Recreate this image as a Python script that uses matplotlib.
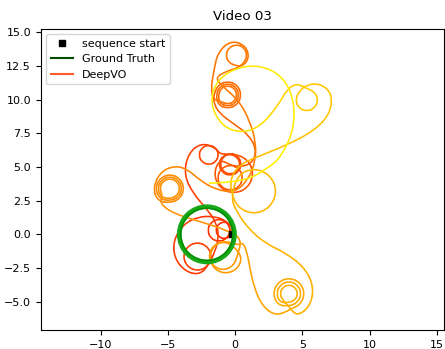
import numpy as np
import matplotlib
matplotlib.use("Agg")
import matplotlib.pyplot as plt
from matplotlib.path import Path
from matplotlib.patches import PathPatch, Circle
from matplotlib.lines import Line2D

plt.rcParams["font.size"] = 8

# punto de inicio de la secuencia
start_xy = (-0.25, 0.05)

# ground truth: la camara da vueltas sobre un mismo circulo
gt_center = (-2.1, 0.0)
gt_radius = 2.05

# DeepVO: puntos de control de la trayectoria, en orden de tiempo
vo_inicio = [(-0.25, 0.05), (-0.15, 0.3), (-0.34, 0.76), (-0.8, 0.95), (-1.26, 0.76), (-1.45, 0.3),
             (-1.26, -0.16), (-0.8, -0.35), (-0.34, -0.16), (-0.34, 0.3), (-0.59, 0.91), (-1.2, 1.16),
             (-1.81, 0.91), (-2.06, 0.3), (-1.81, -0.31), (-1.2, -0.56), (-0.59, -0.31), (-0.3, 0.35),
             (-0.6, 1.0)]
vo_arco_rojo = [(-1.6, 1.35), (-2.8, 1.3), (-3.9, 0.7), (-4.6, -0.5), (-4.5, -1.8), (-3.7, -2.75),
                (-2.7, -3.0), (-2.04, -2.41), (-1.72, -1.65), (-2.04, -0.89), (-2.8, -0.57), (-3.56, -0.89),
                (-3.88, -1.65), (-3.56, -2.41), (-2.8, -2.73), (-2.04, -2.41), (-1.5, -1.3), (-1.2, -0.2),
                (-1.4, 0.9), (-2.2, 2.0), (-3.1, 3.0), (-3.8, 4.4), (-3.5, 6.0), (-2.5, 6.8), (-1.4, 6.4)]
vo_lazo_e = [(-1.21, 5.9), (-1.43, 5.37), (-1.96, 5.15), (-2.49, 5.37), (-2.71, 5.9), (-2.49, 6.43),
             (-1.96, 6.65), (-1.43, 6.43), (-1.15, 5.95)]
vo_lazos_f = [(-0.37, 5.96), (0.17, 5.74), (0.39, 5.2), (0.17, 4.66), (-0.37, 4.44), (-0.91, 4.66),
              (-1.13, 5.2), (-0.91, 5.74), (-0.37, 6.06), (0.24, 5.81), (0.49, 5.2), (0.24, 4.59),
              (-0.37, 4.34), (-0.98, 4.59), (-1.23, 5.2), (-0.98, 5.81), (-0.1, 6.0), (0.96, 5.56),
              (1.4, 4.5), (0.96, 3.44), (-0.1, 3.0), (-1.16, 3.44), (-1.6, 4.5), (-1.16, 5.56),
              (-0.37, 5.17), (0.32, 4.89), (0.6, 4.2), (0.32, 3.51), (-0.37, 3.23), (-1.06, 3.51),
              (-1.34, 4.2), (-1.06, 4.89), (-0.37, 5.17), (0.4, 5.0)]
vo_subida = [(1.3, 5.3), (1.6, 6.3), (1.0, 7.4), (-0.1, 8.2), (-1.2, 9.0), (-1.6, 9.8)]
vo_lazos_h = [(-1.58, 10.35), (-1.28, 11.08), (-0.55, 11.38), (0.18, 11.08), (0.48, 10.35), (0.18, 9.62),
              (-0.55, 9.32), (-1.28, 9.62), (-1.41, 10.35), (-1.16, 10.96), (-0.55, 11.21), (0.06, 10.96),
              (0.31, 10.35), (0.06, 9.74), (-0.55, 9.49), (-1.16, 9.74), (-1.25, 10.35), (-1.05, 10.85),
              (-0.55, 11.05), (-0.05, 10.85), (0.15, 10.35), (-0.05, 9.85), (-0.55, 9.65), (-1.05, 9.85)]
vo_cima = [(-1.6, 10.0), (-1.8, 10.8), (-1.6, 12.0), (-1.3, 13.5), (-0.3, 14.4), (0.8, 14.0),
           (1.05, 13.1), (0.6, 12.5), (0.1, 12.5), (-0.47, 12.73), (-0.7, 13.3), (-0.47, 13.87),
           (0.1, 14.1), (0.67, 13.87), (0.9, 13.3), (0.67, 12.73), (0.2, 12.35), (-0.8, 12.05),
           (-1.45, 11.6), (-1.0, 11.05), (0.3, 9.9), (1.1, 8.4), (1.55, 6.8), (1.5, 5.4), (1.0, 4.1)]
vo_hacia_k = [(0.0, 3.1), (-1.4, 3.3), (-2.6, 4.0), (-3.5, 4.8), (-4.4, 5.1), (-5.5, 4.7), (-6.1, 3.5),
              (-5.8, 2.5)]
vo_lazos_k = [(-4.85, 2.32), (-4.09, 2.64), (-3.77, 3.4), (-4.09, 4.16), (-4.85, 4.48), (-5.61, 4.16),
              (-5.93, 3.4), (-5.61, 2.64), (-4.85, 2.48), (-4.2, 2.75), (-3.93, 3.4), (-4.2, 4.05),
              (-4.85, 4.32), (-5.5, 4.05), (-5.77, 3.4), (-5.5, 2.75), (-4.85, 2.64), (-4.31, 2.86),
              (-4.09, 3.4), (-4.31, 3.94), (-4.85, 4.16), (-5.39, 3.94), (-5.61, 3.4), (-5.39, 2.86)]
vo_hacia_l = [(-5.6, 2.3), (-4.6, 1.55), (-2.6, 0.95), (-0.6, 0.3), (0.5, -0.3)]
vo_lazos_l = [(0.18, -1.6), (-0.14, -2.36), (-0.9, -2.68), (-1.66, -2.36), (-1.98, -1.6), (-1.66, -0.84),
              (-0.9, -0.52), (-0.14, -0.84), (0.54, -1.7), (0.18, -2.58), (-0.7, -2.94), (-1.58, -2.58),
              (-1.94, -1.7), (-1.58, -0.82), (-0.7, -0.46), (0.18, -0.82)]
vo_bajada = [(0.6, -0.6), (0.9, -1.4), (1.1, -2.5), (1.4, -3.9), (2.0, -5.3), (3.0, -6.05), (4.0, -5.65)]
vo_lazos_n = [(4.0, -5.59), (4.84, -5.24), (5.19, -4.4), (4.84, -3.56), (4.0, -3.21), (3.16, -3.56),
              (2.81, -4.4), (3.16, -5.24), (4.0, -5.34), (4.66, -5.06), (4.94, -4.4), (4.66, -3.74),
              (4.0, -3.46), (3.34, -3.74), (3.06, -4.4), (3.34, -5.06), (4.0, -5.07), (4.47, -4.87),
              (4.67, -4.4), (4.47, -3.93), (4.0, -3.73), (3.53, -3.93), (3.33, -4.4), (3.53, -4.87)]
vo_regreso = [(4.0, -5.35), (4.6, -6.1), (5.6, -5.3), (5.85, -3.9), (5.2, -2.5), (3.8, -1.4), (2.3, -0.7),
              (1.0, 0.4), (0.1, 1.7), (-0.3, 2.7)]
vo_lazo_m = [(0.18, 4.42), (1.4, 4.93), (2.62, 4.42), (3.13, 3.2), (2.62, 1.98), (1.4, 1.47), (0.18, 1.98),
             (-0.33, 3.2)]
vo_lobulo = [(-0.3, 4.3), (0.4, 5.2), (1.5, 5.7), (3.8, 6.6), (5.9, 7.7), (7.1, 9.0), (7.2, 10.5),
             (6.3, 11.2), (5.3, 11.1), (4.73, 10.57), (4.48, 9.97), (4.73, 9.37), (5.33, 9.12),
             (5.93, 9.37), (6.18, 9.97), (5.93, 10.57), (5.33, 10.82), (4.6, 11.2), (3.9, 10.8)]
vo_curva_s = [(3.2, 9.6), (2.0, 8.1), (0.6, 7.5)]
vo_final = [(-1.0, 8.0), (-1.9, 9.8), (-1.3, 11.6), (0.7, 12.6), (2.8, 12.3), (4.2, 10.8), (4.5, 8.2),
            (3.5, 5.8), (2.3, 4.8), (0.5, 3.85), (-1.9, 3.8)]

tramos = [vo_inicio, vo_arco_rojo, vo_lazo_e, vo_lazos_f, vo_subida, vo_lazos_h, vo_cima, vo_hacia_k,
          vo_lazos_k, vo_hacia_l, vo_lazos_l, vo_bajada, vo_lazos_n, vo_regreso, vo_lazo_m,
          vo_lobulo, vo_curva_s, vo_final]
# fraccion de la secuencia transcurrida al terminar cada tramo
vo_tiempo = [0.04, 0.09, 0.13, 0.23, 0.29, 0.35, 0.41, 0.46, 0.51, 0.53, 0.57, 0.62, 0.66, 0.69, 0.71,
             0.82, 0.94, 1.0]

puntos = np.array([p for tramo in tramos for p in tramo])

# tiempo de cada punto: dentro de un tramo avanza con la distancia recorrida
t_puntos = []
t_prev = 0.0
x_prev = np.array(tramos[0][0])
for tramo, t_fin in zip(tramos, vo_tiempo):
    tr = np.array(tramo)
    d = np.hypot(*np.diff(np.vstack([x_prev, tr]), axis=0).T).cumsum()
    t_puntos.extend(t_prev + (t_fin - t_prev) * d / d[-1])
    t_prev, x_prev = t_fin, tr[-1]
t_puntos = np.array(t_puntos)

fig = plt.figure(figsize=(4.45, 3.49), dpi=100)
ax = fig.add_axes([0.0915, 0.0544, 0.9063, 0.8633])

cmap = plt.get_cmap("autumn")

# curva suave: B-spline cuadratica con segmentos CURVE3 entre puntos medios
medios = (puntos[1:] + puntos[:-1]) / 2
for i in range(1, len(puntos) - 1):
    p0 = puntos[0] if i == 1 else medios[i - 1]
    p2 = puntos[-1] if i == len(puntos) - 2 else medios[i]
    trozo = Path([p0, puntos[i], p2], [Path.MOVETO, Path.CURVE3, Path.CURVE3])
    ax.add_patch(PathPatch(trozo, fill=False, lw=1.15, capstyle="round",
                           edgecolor=cmap(0.18 + 0.77 * t_puntos[i]), zorder=2))

ax.plot(*start_xy, "s", color="black", markersize=4.5, zorder=3)

# ground truth
ax.add_patch(Circle(gt_center, gt_radius, fill=False, lw=3.4, edgecolor="#17a817", zorder=4))
ax.add_patch(Circle(gt_center, gt_radius - 0.11, fill=False, lw=1.0, edgecolor="#008a00", zorder=4))

ax.set_xlim(-14.45, 15.53)
ax.set_ylim(-7.1, 15.26)
ax.set_title("Video 03", fontsize=9.6)

handles = [Line2D([], [], marker="s", color="black", linestyle="None", markersize=5),
           Line2D([], [], color="#004d00", lw=1.5),
           Line2D([], [], color="#ff5a2a", lw=1.5)]
ax.legend(handles, ["sequence start", "Ground Truth", "DeepVO"], loc="upper left")

fig.savefig("out.png", dpi=100)
